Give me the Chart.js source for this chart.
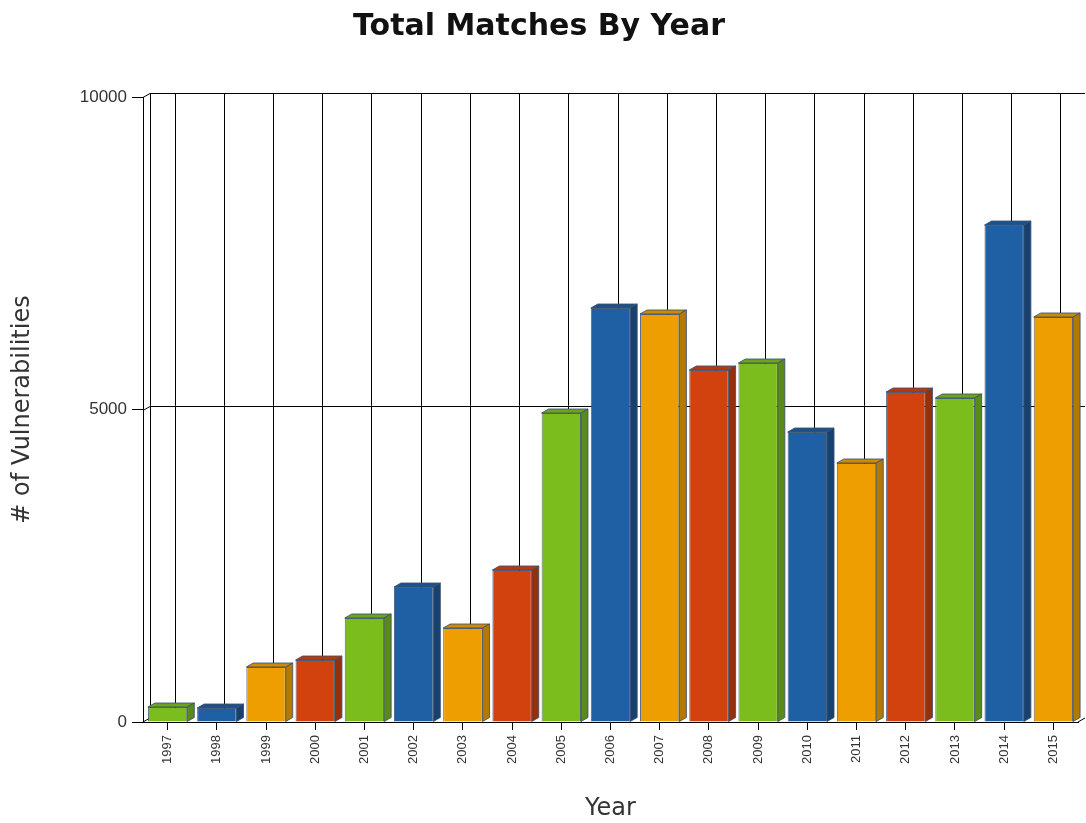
<!DOCTYPE html>
<html>
<head>
<meta charset="utf-8">
<script src="https://cdn.jsdelivr.net/npm/chart.js@4.4.1/dist/chart.umd.min.js"></script>
<style>
  html, body { margin: 0; padding: 0; background: #fff; }
  #wrap { width: 1086px; height: 823px; position: relative; }
</style>
</head>
<body>
<div id="wrap"><canvas id="matchesChart"></canvas></div>
<script>
// Data
const years = ['1997', '1998', '1999', '2000', '2001', '2002', '2003', '2004', '2005', '2006',
               '2007', '2008', '2009', '2010', '2011', '2012', '2013', '2014', '2015'];
const matches = [240, 224, 880, 992, 1664, 2160, 1504, 2432, 4944, 6624,
                 6528, 5632, 5744, 4640, 4144, 5280, 5184, 7952, 6480];
const yTicks = [0, 5000, 10000];

// colour cycle: green, blue, orange, red
const frontColors = ['#7cbd1e', '#1f5fa3', '#ee9e00', '#d2420e'];
const topColors   = ['#6ca51a', '#1b528e', '#d08a00', '#b8390c'];
const sideColors  = ['#5a8a17', '#17416f', '#b57800', '#96300b'];

const depth = { dx: 7, dy: 4 };

// Fake 3D: back wall grid behind bars, top + side faces on bars
const threeD = {
    id: 'threeD',
    beforeDatasetsDraw(chart) {
        const ctx = chart.ctx;
        const { left, right, top, bottom } = chart.chartArea;
        const xs = chart.scales.x;
        const ys = chart.scales.y;
        ctx.save();
        ctx.strokeStyle = '#000';
        ctx.lineWidth = 1;
        ctx.beginPath();
        // back left wall
        ctx.moveTo(left + depth.dx + 0.5, top - depth.dy);
        ctx.lineTo(left + depth.dx + 0.5, bottom - depth.dy);
        // horizontal grid on back wall
        yTicks.forEach(v => {
            if (v === 0) return;
            const py = Math.round(ys.getPixelForValue(v)) + 0.5;
            ctx.moveTo(left, py);
            ctx.lineTo(left + depth.dx, py - depth.dy);
            ctx.lineTo(right + depth.dx, py - depth.dy);
        });
        // vertical grid on back wall
        years.forEach((_, i) => {
            const px = Math.round(xs.getPixelForTick(i)) + depth.dx + 0.5;
            ctx.moveTo(px, top - depth.dy);
            ctx.lineTo(px, bottom - depth.dy);
        });
        // bottom corner diagonals
        ctx.moveTo(left, bottom);
        ctx.lineTo(left + depth.dx, bottom - depth.dy);
        ctx.moveTo(right, bottom);
        ctx.lineTo(right + depth.dx, bottom - depth.dy);
        ctx.stroke();
        ctx.restore();
    },
    afterDatasetsDraw(chart) {
        const ctx = chart.ctx;
        const meta = chart.getDatasetMeta(0);
        ctx.save();
        ctx.lineWidth = 1;
        ctx.strokeStyle = 'rgba(60, 80, 110, 0.85)';
        meta.data.forEach((bar, i) => {
            const { x, y, base, width } = bar.getProps(['x', 'y', 'base', 'width'], true);
            const l = x - width / 2;
            const r = x + width / 2;
            const c = i % 4;
            // top face
            ctx.beginPath();
            ctx.moveTo(l, y);
            ctx.lineTo(l + depth.dx, y - depth.dy);
            ctx.lineTo(r + depth.dx, y - depth.dy);
            ctx.lineTo(r, y);
            ctx.closePath();
            ctx.fillStyle = topColors[c];
            ctx.fill();
            ctx.stroke();
            // side face
            ctx.beginPath();
            ctx.moveTo(r, y);
            ctx.lineTo(r + depth.dx, y - depth.dy);
            ctx.lineTo(r + depth.dx, base - depth.dy);
            ctx.lineTo(r, base);
            ctx.closePath();
            ctx.fillStyle = sideColors[c];
            ctx.fill();
            ctx.stroke();
        });
        ctx.restore();
    }
};

function initChart() {
    const ctx = document.getElementById('matchesChart').getContext('2d');

    Chart.defaults.font.family = "'Liberation Sans', Arial, sans-serif";
    Chart.defaults.color = '#333';

    new Chart(ctx, {
        type: 'bar',
        data: {
            labels: years,
            datasets: [{
                label: 'Total Matches',
                data: matches,
                backgroundColor: years.map((_, i) => frontColors[i % 4]),
                borderColor: 'rgba(60, 80, 110, 0.85)',
                borderWidth: 1,
                barPercentage: 0.8,
                categoryPercentage: 1.0
            }]
        },
        options: {
            responsive: true,
            maintainAspectRatio: false,
            animation: false,
            layout: { padding: { left: 0, right: 8, top: 0, bottom: 0 } },
            plugins: {
                legend: { display: false },
                tooltip: { enabled: false },
                title: {
                    display: true,
                    text: 'Total Matches By Year',
                    color: '#111',
                    font: { family: "'DejaVu Sans', sans-serif", size: 30, weight: 'bold' },
                    padding: { top: 9, bottom: 52 }
                }
            },
            scales: {
                x: {
                    grid: {
                        display: true,
                        drawOnChartArea: false,
                        offset: false,
                        color: '#000',
                        tickLength: 8,
                        tickColor: '#000'
                    },
                    border: { display: true, color: '#000', width: 1 },
                    ticks: {
                        minRotation: 90,
                        maxRotation: 90,
                        padding: 5,
                        color: '#333',
                        font: { size: 13 }
                    },
                    title: {
                        display: true,
                        text: 'Year',
                        color: '#333',
                        font: { family: "'DejaVu Sans', sans-serif", size: 24 },
                        padding: { top: 4, bottom: 0 }
                    },
                    afterFit: (scale) => { scale.height = 101; }
                },
                y: {
                    min: 0,
                    max: 10000,
                    afterBuildTicks: (scale) => { scale.ticks = yTicks.map(v => ({ value: v })); },
                    grid: {
                        display: true,
                        drawOnChartArea: false,
                        color: '#000',
                        tickLength: 11,
                        tickColor: '#000'
                    },
                    border: { display: true, color: '#000', width: 1 },
                    ticks: {
                        padding: 5,
                        color: '#333',
                        font: { size: 17 },
                        callback: (v) => String(v)
                    },
                    title: {
                        display: true,
                        text: '# of Vulnerabilities',
                        color: '#333',
                        font: { family: "'DejaVu Sans', sans-serif", size: 24 },
                        padding: { top: 8, bottom: 0 }
                    },
                    afterFit: (scale) => { scale.width = 143; }
                }
            }
        },
        plugins: [threeD]
    });
}

window.addEventListener('DOMContentLoaded', () => {
    initChart();
});
</script>
</body>
</html>
